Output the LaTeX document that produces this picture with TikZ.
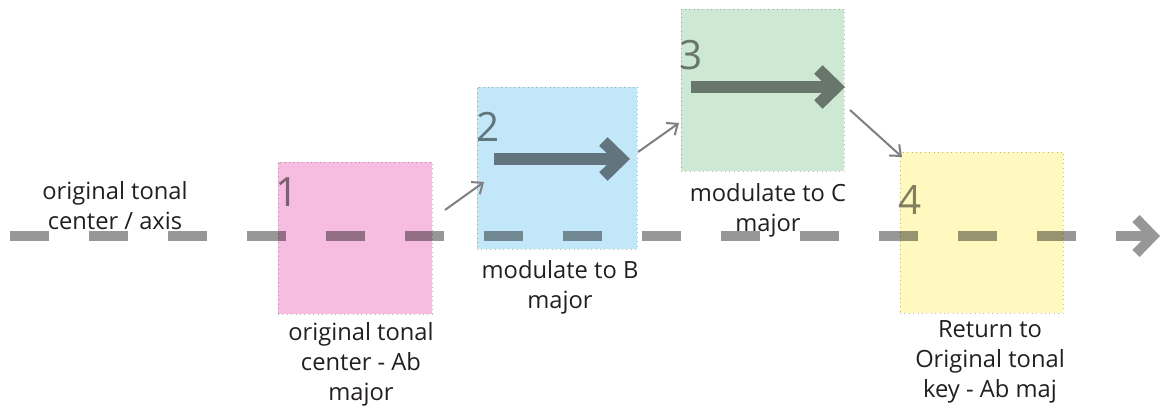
\documentclass[tikz,border=0pt]{standalone}
\usepackage{fontspec}
\setmainfont{Open Sans}
\usetikzlibrary{arrows.meta, positioning}
\definecolor{keypink}{HTML}{F7BDE0}
\definecolor{keyblue}{HTML}{C1E7F9}
\definecolor{keygreen}{HTML}{CDE8D3}
\definecolor{keyyellow}{HTML}{FFF9BF}
\definecolor{axisgray}{HTML}{979797}
\definecolor{markgray}{HTML}{828282}
\definecolor{hopgray}{HTML}{7F7F7F}
\definecolor{labeltext}{HTML}{231F20}

\begin{document}
\begin{tikzpicture}[x=0.02cm, y=-0.02cm,
  keybox/.style={draw=gray!55, dotted, line width=0.5pt, fill=#1, inner sep=0pt},
  keynum/.style={text=markgray, font=\fontsize{23}{23}\selectfont, inner sep=0pt, anchor=base west},
  keylabel/.style={text=labeltext, font=\fontsize{13.5}{17}\selectfont, align=center, inner sep=0pt},
  axisline/.style={axisgray, line width=0.2cm, dash pattern=on 0.79cm off 0.79cm, -{Straight Barb[length=0.34cm, width=0.7cm]}},
  shiftarrow/.style={markgray, line width=0.24cm, -{Straight Barb[length=0.36cm, width=0.7cm]}},
  hop/.style={hopgray, line width=0.04cm, -{Straight Barb[length=0.18cm, width=0.3cm]}}
]
  \useasboundingbox (0,0) rectangle (1165,411);

  \coordinate (axisstart) at (10,236);
  \coordinate (axisend) at (1160,236);
  \draw[axisline] (axisstart) -- (axisend);

  \node[keynum] (num1) at (275,207) {1};
  \node[keynum] (num2) at (476,142) {2};
  \node[keynum] (num3) at (679,70) {3};
  \node[keynum] (num4) at (898,215) {4};

  \coordinate (shift2s) at (494,159);
  \coordinate (shift2e) at (630,159);
  \coordinate (shift3s) at (691,87);
  \coordinate (shift3e) at (845,87);
  \draw[shiftarrow] (shift2s) -- (shift2e);
  \draw[shiftarrow] (shift3s) -- (shift3e);

  \begin{scope}[blend mode=multiply]
    \node[keybox=keypink, minimum width=3.08cm, minimum height=3.04cm] (key1) at (355,238) {};
    \node[keybox=keyblue, minimum width=3.2cm, minimum height=3.24cm] (key2) at (557,168) {};
    \node[keybox=keygreen, minimum width=3.26cm, minimum height=3.24cm] (key3) at (762.5,90) {};
    \node[keybox=keyyellow, minimum width=3.26cm, minimum height=3.22cm] (key4) at (981.5,232.5) {};
  \end{scope}

  \node[keylabel, anchor=north] (axislabel) at (115,181) {original tonal\\center / axis};
  \node[keylabel, below=0.16cm of key1, xshift=0.12cm] (label1) {original tonal\\center - Ab\\major};
  \node[keylabel, below=0.22cm of key2, xshift=0.06cm] (label2) {modulate to B\\major};
  \node[keylabel, below=0.24cm of key3, xshift=0.11cm] (label3) {modulate to C\\major};
  \node[keylabel, below=0.14cm of key4, xshift=0.17cm] (label4) {Return to\\Original tonal\\key - Ab maj};

  \coordinate (hop1s) at (445,210);
  \coordinate (hop1e) at (484,182);
  \coordinate (hop2s) at (638,152);
  \coordinate (hop2e) at (679,123);
  \coordinate (hop3s) at (850,110);
  \coordinate (hop3e) at (902,157);
  \draw[hop] (hop1s) -- (hop1e);
  \draw[hop] (hop2s) -- (hop2e);
  \draw[hop] (hop3s) -- (hop3e);
\end{tikzpicture}
\end{document}
